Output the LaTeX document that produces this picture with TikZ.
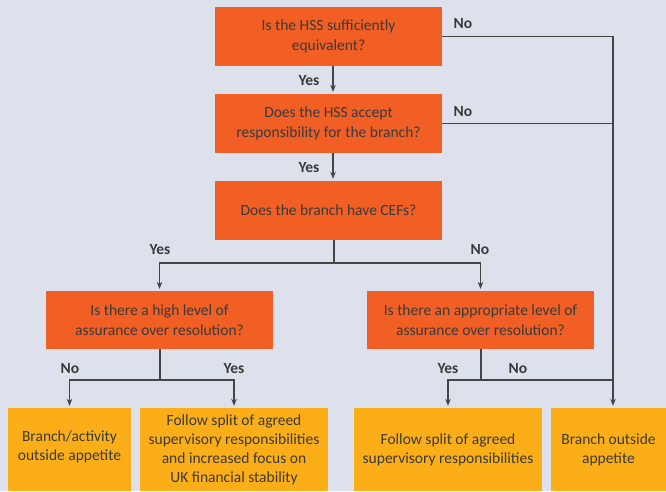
\documentclass[tikz,border=0pt]{standalone}
\usepackage{fontspec}
\setmainfont{Carlito}
\usetikzlibrary{arrows.meta}
\definecolor{bg}{HTML}{DDE1EC}
\definecolor{qcol}{HTML}{F15F24}
\definecolor{rescol}{HTML}{FBAE17}
\definecolor{ink}{HTML}{3A3A3A}
\definecolor{lncol}{HTML}{454545}
\begin{document}
\begin{tikzpicture}[x=1pt,y=-1pt,
  qbox/.style={fill=qcol, text=ink, minimum width=227pt, minimum height=59pt, align=center, inner sep=0pt, font=\fontsize{15.5}{19.5}\selectfont},
  rbox/.style={fill=rescol, text=ink, minimum height=83pt, align=center, inner sep=0pt, font=\fontsize{15.5}{19}\selectfont},
  lab/.style={text=ink, font=\fontsize{15.5}{17}\selectfont\bfseries, inner sep=0pt},
  conn/.style={draw=lncol, line width=1.2pt},
  arr/.style={conn, -{Stealth[length=7pt,width=5.5pt]}, shorten >=2pt}]
\useasboundingbox (0,0) rectangle (666,491);
\clip (0,0) rectangle (666,491);
\fill[bg] (0,0) rectangle (666,491);

\node[qbox] (q1) at (328.5,36.5) {Is the HSS sufficiently\\equivalent?};
\node[qbox] (q2) at (328.5,123.5) {Does the HSS accept\\responsibility for the branch?};
\node[qbox] (q3) at (328.5,210.5) {Does the branch have CEFs?};
\node[qbox, minimum height=58pt] (q4l) at (159.5,320) {Is there a high level of\\assurance over resolution?};
\node[qbox, minimum height=58pt] (q4r) at (480.5,320) {Is there an appropriate level of\\assurance over resolution?};

\node[rbox, minimum width=123pt] (b1) at (69.5,449.5) {};
\node[text=ink, align=center, inner sep=0pt, font=\fontsize{15.5}{19}\selectfont] (b1t) at (69.5,447) {Branch/activity\\outside appetite};
\node[rbox, minimum width=188pt] (b2) at (234,449.5) {Follow split of agreed\\supervisory responsibilities\\and increased focus on\\UK financial stability};
\node[rbox, minimum width=188pt] (b3) at (448,449.5) {Follow split of agreed\\supervisory responsibilities};
\node[rbox, minimum width=119pt] (b4) at (610.5,449.5) {};
\node[text=ink, align=center, inner sep=0pt, font=\fontsize{15.5}{19}\selectfont] (b4t) at (608.5,449.5) {Branch outside\\appetite};

\coordinate (rx) at (613,0);
\coordinate (s3) at (334,263);
\coordinate (s4l) at (160,380);
\coordinate (s4r) at (481,380);

\draw[arr] (q1.east) -| (b4.north -| rx);
\draw[conn] (q2.east) -- (q2.east -| rx);
\draw[arr] ([xshift=4.5pt]q1.south) -- ([xshift=4.5pt]q2.north);
\draw[arr] ([xshift=4.5pt]q2.south) -- ([xshift=4.5pt]q3.north);
\draw[conn] (q3.south -| s3) -- (s3);
\draw[arr] (s3) -| (q4l.north);
\draw[arr] (s3) -| (q4r.north);
\draw[conn] (q4l.south -| s4l) -- (s4l);
\draw[arr] (s4l) -| (b1.north);
\draw[arr] (s4l) -| (b2.north);
\draw[conn] (q4r.south -| s4r) -- (s4r);
\draw[arr] (s4r) -| (b3.north);
\draw[conn] (s4r) -- (s4r -| rx);

\node[lab] (l1) at (463,24) {No};
\node[lab] (l2) at (463,112) {No};
\node[lab] (l3) at (309,81) {Yes};
\node[lab] (l4) at (309,168) {Yes};
\node[lab] (l5) at (160,250) {Yes};
\node[lab] (l6) at (480,250) {No};
\node[lab] (l7) at (70,369) {No};
\node[lab] (l8) at (234,369) {Yes};
\node[lab] (l9) at (448,369) {Yes};
\node[lab] (l10) at (518,369) {No};
\end{tikzpicture}
\end{document}
